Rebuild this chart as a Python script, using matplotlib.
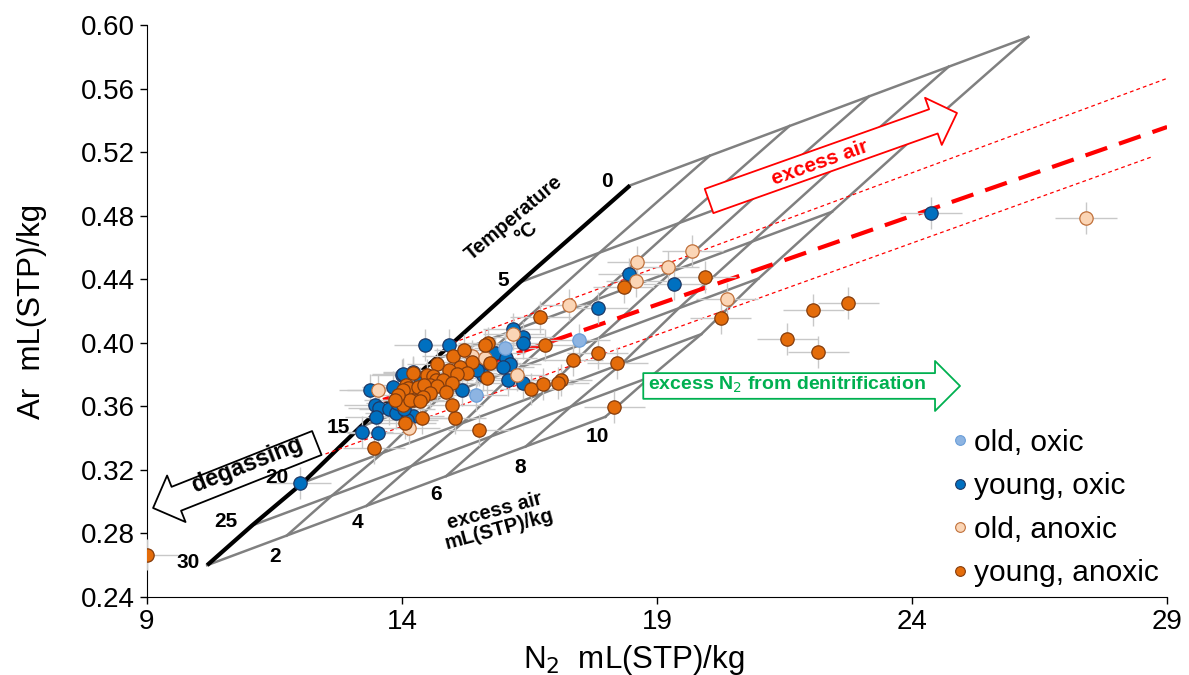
import numpy as np
import matplotlib
matplotlib.use('Agg')
import matplotlib.pyplot as plt

plt.rcParams['font.family'] = ['Liberation Sans', 'DejaVu Sans']

# equilibrium N2 / Ar (mL(STP)/kg) along the temperature line
temps = [0, 5, 10, 15, 20, 25, 30]
n2_eq = [18.47, 16.31, 14.62, 13.18, 12.06, 11.06, 10.18]
ar_eq = [0.499, 0.438, 0.389, 0.347, 0.312, 0.285, 0.260]
excess_air = [0, 2, 4, 6, 8, 10]
air_n2 = 0.7808    # mL N2 per mL excess air
air_ar = 0.00934   # mL Ar per mL excess air

# samples
young_oxic_n2 = [12.00, 24.37, 18.45, 19.33, 17.84, 16.18, 16.37, 16.37, 15.82, 16.04,
                 16.12, 15.98, 15.51, 15.59, 16.08, 16.37, 15.18, 14.45, 14.92, 14.00,
                 13.82, 13.37, 13.47, 13.55, 13.75, 13.88, 13.49, 14.22, 14.10, 14.04,
                 13.90, 13.22, 13.53, 15.47, 14.22, 14.35, 14.02]
young_oxic_ar = [0.3117, 0.4817, 0.4433, 0.4370, 0.4219, 0.4087, 0.4036, 0.3999, 0.3936, 0.3904,
                 0.3866, 0.3847, 0.3829, 0.3797, 0.3766, 0.3747, 0.3703, 0.3986, 0.3986, 0.3797,
                 0.3722, 0.3703, 0.3608, 0.3589, 0.3583, 0.3558, 0.3533, 0.3539, 0.3514, 0.3583,
                 0.3621, 0.3438, 0.3432, 0.3829, 0.3816, 0.3747, 0.3806]

old_oxic_n2 = [16.02, 17.47, 15.45]
old_oxic_ar = [0.3967, 0.4017, 0.3671]

old_anoxic_n2 = [27.41, 20.37, 19.69, 19.22, 18.61, 18.59, 17.27, 16.18, 15.37, 15.63,
                 16.25, 13.53, 14.14]
old_anoxic_ar = [0.4785, 0.4276, 0.4578, 0.4477, 0.4508, 0.4389, 0.4238, 0.4055, 0.3917, 0.3904,
                 0.3797, 0.3703, 0.3463]

young_anoxic_n2 = [9.00, 22.75, 22.06, 22.16, 21.55, 20.25, 19.94, 18.35, 16.71, 16.80,
                   17.84, 17.35, 18.22, 17.12, 18.16, 16.53, 16.76, 17.06, 15.69, 15.63,
                   15.73, 15.37, 15.67, 15.51, 15.04, 14.98, 14.39, 14.06, 14.02, 13.45,
                   15.00, 15.22, 15.14, 15.27, 14.92, 14.69, 15.08, 14.22, 14.49, 14.61,
                   14.67, 14.80, 14.98, 14.08, 14.12, 14.55, 14.69, 14.31, 14.43, 14.55,
                   14.41, 14.22, 14.02, 14.16, 14.35, 14.86, 13.92, 13.86]
young_anoxic_ar = [0.2667, 0.4251, 0.4206, 0.3942, 0.4024, 0.4156, 0.4414, 0.4351, 0.4162, 0.3986,
                   0.3936, 0.3892, 0.3873, 0.3766, 0.3596, 0.3709, 0.3740, 0.3747, 0.3999, 0.3986,
                   0.3873, 0.3879, 0.3778, 0.3451, 0.3527, 0.3608, 0.3527, 0.3495, 0.3608, 0.3338,
                   0.3917, 0.3955, 0.3847, 0.3810, 0.3829, 0.3866, 0.3803, 0.3810, 0.3797, 0.3791,
                   0.3766, 0.3766, 0.3747, 0.3734, 0.3715, 0.3734, 0.3728, 0.3722, 0.3734, 0.3684,
                   0.3659, 0.3640, 0.3703, 0.3640, 0.3634, 0.3690, 0.3671, 0.3640]

# denitrification trend and envelope
trend_n2 = [13.63, 29.0]
trend_ar = [0.364, 0.5358]
upper_n2 = [15.0, 29.0]
upper_ar = [0.400, 0.5664]
lower_n2 = [12.5, 28.7]
lower_ar = [0.330, 0.517]

fig = plt.figure(figsize=(11.89, 6.75), dpi=100)
ax = fig.add_axes([0.1236, 0.1156, 0.858, 0.8474])

# excess air grid
n2_eq = np.array(n2_eq)
ar_eq = np.array(ar_eq)
for a in excess_air:
    if a == 0:
        ax.plot(n2_eq, ar_eq, color='black', lw=3, zorder=2, solid_capstyle='butt')
    else:
        ax.plot(n2_eq + a * air_n2, ar_eq + a * air_ar, color='#808080', lw=1.8, zorder=1)
for n, r in zip(n2_eq, ar_eq):
    ax.plot([n, n + excess_air[-1] * air_n2], [r, r + excess_air[-1] * air_ar],
            color='#808080', lw=1.8, zorder=1)

ax.plot(trend_n2, trend_ar, color='red', lw=3, dashes=(5.5, 3), zorder=3)
ax.plot(upper_n2, upper_ar, color='red', lw=0.9, dashes=(3, 2.5), zorder=3)
ax.plot(lower_n2, lower_ar, color='red', lw=0.9, dashes=(3, 2.5), zorder=3)

# grid labels
t_label_pos = [(18.02, 0.5018, '0'), (15.98, 0.4389, '5'), (12.75, 0.3464, '15'),
               (11.55, 0.3149, '20'), (10.55, 0.2872, '25'), (9.80, 0.2614, '30')]
a_label_pos = [(11.51, 0.2652, '2'), (13.12, 0.2866, '4'), (14.67, 0.3048, '6'),
               (16.31, 0.3212, '8'), (17.82, 0.3407, '10')]
for x, y, s in t_label_pos + a_label_pos:
    ax.text(x, y, s, fontsize=15, fontweight='bold', ha='center', va='center', zorder=6)
ax.text(16.31, 0.4741, 'Temperature\n°C', fontsize=14.5, fontweight='bold', ha='center',
        va='center', rotation=40, multialignment='center', linespacing=1.0, zorder=6)
ax.text(15.86, 0.2885, 'excess air\nmL(STP)/kg', fontsize=14.5, fontweight='bold', ha='center',
        va='center', rotation=15, multialignment='center', linespacing=1.0, zorder=6)

# arrows
def block_arrow(tail, tip, color):
    ax.annotate('', xy=tip, xytext=tail, zorder=5,
                arrowprops=dict(arrowstyle='simple,head_length=1.8,head_width=3.6,tail_width=1.85',
                                mutation_scale=10, fc='white', ec=color, lw=1.3,
                                shrinkA=0, shrinkB=0))

block_arrow((20.02, 0.4892), (24.88, 0.5446), 'red')
block_arrow((18.73, 0.3728), (24.94, 0.3728), '#00B050')
block_arrow((12.33, 0.3369), (9.12, 0.296), 'black')
ax.text(22.2, 0.5131, 'excess air', color='red', fontsize=15, fontweight='bold',
        rotation=19.5, ha='center', va='center', zorder=6)
ax.text(21.55, 0.3735, 'excess N$_2$ from denitrification', color='#00B050', fontsize=14,
        fontweight='bold', ha='center', va='center', zorder=6)
ax.text(10.96, 0.3235, 'degassing', color='black', fontsize=17, fontweight='bold',
        rotation=21.6, ha='center', va='center', zorder=6)

# samples with error bars
groups = [
    (young_oxic_n2, young_oxic_ar, '#0070C0', '#1F3864', 'young, oxic'),
    (old_oxic_n2, old_oxic_ar, '#8DB4E2', '#6A9ED8', 'old, oxic'),
    (old_anoxic_n2, old_anoxic_ar, '#FBD5B5', '#C0703A', 'old, anoxic'),
    (young_anoxic_n2, young_anoxic_ar, '#E46C0A', '#843C0C', 'young, anoxic'),
]
handles = {}
for xs, ys, fc, ec, lab in groups:
    ax.errorbar(xs, ys, xerr=0.6, yerr=0.01, fmt='none', ecolor='#C8C8C8', elinewidth=1,
                capsize=0, zorder=3)
for xs, ys, fc, ec, lab in groups:
    ax.scatter(xs, ys, s=92, color=fc, edgecolors=ec, linewidths=0.9, zorder=4)
    handles[lab] = plt.Line2D([], [], ls='none', marker='o', ms=7, mfc=fc, mec=ec, mew=0.8)

order = ['old, oxic', 'young, oxic', 'old, anoxic', 'young, anoxic']
ax.legend([handles[k] for k in order], order, loc='lower right', frameon=False, fontsize=21.5,
          handlelength=0.5, handletextpad=0.2, labelspacing=0.52, borderaxespad=0.1,
          bbox_to_anchor=(1.006, -0.009))

ax.set_xlim(9, 29)
ax.set_ylim(0.24, 0.60)
ax.set_xticks([9, 14, 19, 24, 29])
ax.set_yticks(np.arange(0.24, 0.601, 0.04))
ax.set_yticklabels(['%.2f' % v for v in np.arange(0.24, 0.601, 0.04)])
ax.spines['top'].set_visible(False)
ax.spines['right'].set_visible(False)
ax.tick_params(direction='out', length=5, labelsize=20, width=1)
ax.set_xlabel('N$_2$  mL(STP)/kg', fontsize=22.5)
ax.set_ylabel('Ar  mL(STP)/kg', fontsize=22.5)
ax.xaxis.set_label_coords(0.477, -0.11)
ax.xaxis.label.set_va('center')
ax.yaxis.set_label_coords(-0.113, 0.5)
ax.yaxis.label.set_va('center')

plt.savefig('out.png', dpi=100)
